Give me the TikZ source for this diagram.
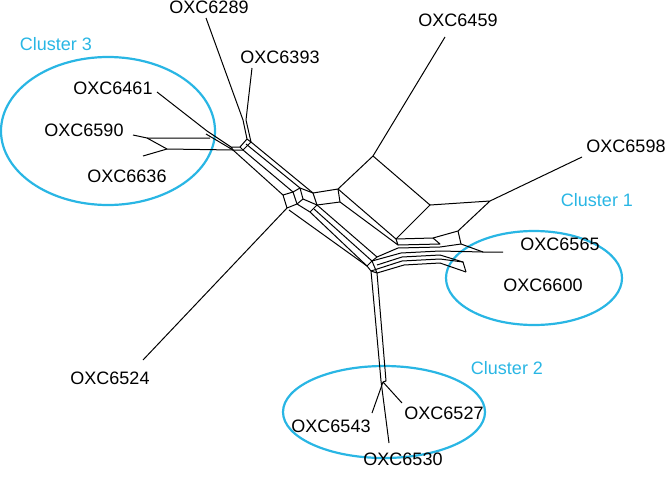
\documentclass[tikz,border=0pt]{standalone}
\usepackage{fontspec}
\setmainfont{Liberation Sans}
\definecolor{clcyan}{RGB}{41,182,228}
\begin{document}
\begin{tikzpicture}[x=1pt,y=-1pt,
  net/.style={line width=1pt,line join=round},
  clus/.style={draw=clcyan,line width=2.2pt},
  lab/.style={inner sep=0pt,font=\fontsize{18}{20}\selectfont},
  clab/.style={lab,text=clcyan}]
\useasboundingbox (0,0) rectangle (666,482);

% clusters
\draw[clus] (108,131) ellipse [x radius=107, y radius=74];
\draw[clus] (534,278) ellipse [x radius=88, y radius=47];
\draw[clus] (384,412) ellipse [x radius=101, y radius=46];

% labels
\node[lab] (n6289) at (209,7) {OXC6289};
\node[lab] (n6393) at (280,57) {OXC6393};
\node[lab] (n6459) at (458,20) {OXC6459};
\node[lab] (n6461) at (113,88) {OXC6461};
\node[lab] (n6590) at (84,130) {OXC6590};
\node[lab] (n6636) at (127,176) {OXC6636};
\node[lab] (n6598) at (626,146) {OXC6598};
\node[lab] (n6565) at (560,244) {OXC6565};
\node[lab] (n6600) at (543,285) {OXC6600};
\node[lab] (n6524) at (110,378) {OXC6524};
\node[lab] (n6527) at (444,413) {OXC6527};
\node[lab] (n6543) at (331,426) {OXC6543};
\node[lab] (n6530) at (403,459) {OXC6530};
\node[clab] (c3) at (56,44) {Cluster 3};
\node[clab] (c1) at (597,200) {Cluster 1};
\node[clab] (c2) at (507,368) {Cluster 2};

% leaf ends
\coordinate (l6289) at (206,18);
\coordinate (l6393) at (252,68);
\coordinate (l6459) at (445,37);
\coordinate (l6461) at (157,92);
\coordinate (l6590) at (133,135);
\coordinate (l6636) at (143,156);
\coordinate (l6598) at (582,157);
\coordinate (l6565) at (503,252);
\coordinate (l6600) at (466,272);
\coordinate (l6524) at (143,360);
\coordinate (l6527) at (402,403);
\coordinate (l6543) at (372,413);
\coordinate (l6530) at (389,443);

% top-left part
\coordinate (p1) at (243,120);
\coordinate (p2) at (246,120);
\coordinate (a1) at (231,147);
\coordinate (a2) at (240,147);
\coordinate (a3) at (247,139);
\coordinate (a4) at (251,142);
\coordinate (a5) at (243,150);
\coordinate (a6) at (233,150);
\coordinate (b461) at (207,131);
\coordinate (f590) at (147,138);
\coordinate (f636) at (167,149);

\draw[net] (l6289) -- (p1) -- (a3);
\draw[net] (l6393) -- (p2) -- (a4);
\draw[net] (a1) -- (a2) -- (a3) -- (a4) -- (a5) -- (a6) -- cycle;
\draw[net] (a2) -- (a5);
\draw[net] (l6461) -- (b461) -- (a1);
\draw[net] (b461) ++(-1,3) -- (a6);
\draw[net] (l6590) -- (f590) -- (210,138);
\draw[net] (f590) -- (f636) -- (a6);
\draw[net] (l6636) -- (f636);

% hub
\coordinate (h1) at (283,195);
\coordinate (h2) at (293,192);
\coordinate (h3) at (300,188);
\coordinate (h4) at (313,193);
\coordinate (h5) at (317,205);
\coordinate (h6) at (310,212);
\coordinate (h7) at (297,204);
\coordinate (h8) at (287,208);
\draw[net] (a4) -- (h4);
\draw[net] (a3) ++(-1,5) -- (h3);
\draw[net] (a5) -- (h2);
\draw[net] (a6) -- (h1);
\draw[net] (h1) -- (h2) -- (h3) -- (h4) -- (h5) -- (h6) -- (h7) -- (h8) -- cycle;
\draw[net] (h2) -- (h7);
\draw[net] (h3) -- (303,199) -- (h5);
\draw[net] (303,199) -- (h7);
\draw[net] (h8) -- (l6524);

% big box
\coordinate (b1) at (338,189);
\coordinate (b2) at (340,202);
\coordinate (bt) at (373,156);
\coordinate (br) at (430,205);
\coordinate (bb) at (396,239);
\coordinate (bb2) at (398,245);
\coordinate (k1) at (490,201);
\coordinate (k2) at (458,231);
\coordinate (k3) at (433,238);
\draw[net] (h4) -- (b1) -- (b2) -- (h5);
\draw[net] (b1) -- (bt) -- (br) -- (bb) -- cycle;
\draw[net] (b2) -- (bb2) -- (bb);
\draw[net] (bt) -- (l6459);
\draw[net] (br) -- (k1) -- (k2) -- (k3) -- (bb);
\draw[net] (k1) -- (l6598);

% main diagonal to lower hub
\coordinate (e1) at (367,266);
\coordinate (e2) at (372,261);
\coordinate (e3) at (377,257);
\coordinate (e4) at (371,271);
\coordinate (e5) at (377,273);
\draw[net] (h6) -- (e1);
\draw[net] (h6) ++(4,-3) -- (e2);
\draw[net] (h5) -- (e3);
\draw[net] (h8) ++(2,2) -- (e1);
\draw[net] (e1) -- (e4) -- (e5) -- (e2);
\draw[net] (e3) -- (e2) -- (e1);

% horizontal bundle to cluster 1
\coordinate (q1) at (461,244);
\coordinate (q2) at (483,252);
\coordinate (q3) at (463,262);
\draw[net] (e3) -- (398,248) -- (440,247);
\draw[net] (bb2) -- (440,244) -- (k3);
\draw[net] (e2) -- (401,253) -- (440,251);
\draw[net] (377,265) -- (402,257) -- (440,255);
\draw[net] (e4) -- (402,261) -- (440,259);
\draw[net] (e5) -- (404,265) -- (440,263);
\draw[net] (k2) -- (q1) -- (q2) -- (l6565);
\draw[net] (440,247) -- (q1);
\draw[net] (440,251) -- (q2);
\draw[net] (440,255) -- (q3) -- (l6600);
\draw[net] (440,259) -- (q3);
\draw[net] (440,263) -- (l6600);

% cluster 2 branch
\coordinate (f2) at (383,382);
\draw[net] (e4) -- (381,381) -- (l6530);
\draw[net] (e5) -- (386,381) -- (f2);
\draw[net] (f2) -- (l6527);
\draw[net] (f2) -- (l6543);
\end{tikzpicture}
\end{document}
